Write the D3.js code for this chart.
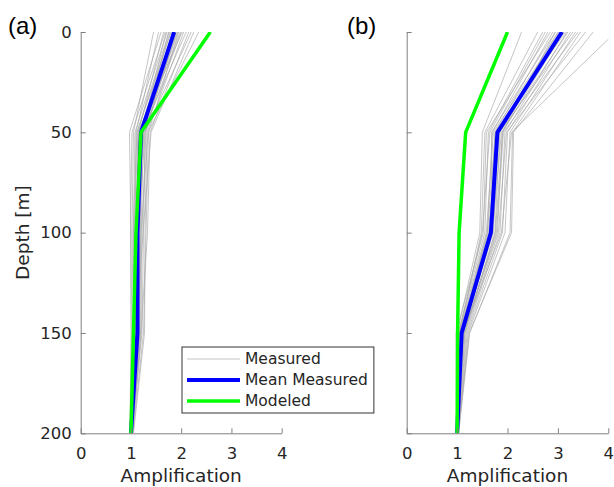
<!DOCTYPE html>
<html><head><meta charset="utf-8">
<script src="https://cdn.jsdelivr.net/npm/d3@7"></script>
<style>body{margin:0;background:#fff}svg{display:block}</style>
</head><body>
<script>
const depths = [0, 50, 100, 150, 200];
const xTicks = [0, 1, 2, 3, 4];
const yTicks = [0, 50, 100, 150, 200];
const panelLabels = ["(a)", "(b)"];
const legendLabels = ["Measured", "Mean Measured", "Modeled"];

const measuredA = [
 [1.45,1.05,1.02,1.05,0.99],[1.55,1.10,1.08,1.10,1.00],[1.60,0.97,1.00,1.02,0.98],
 [1.65,1.15,1.12,1.15,1.01],[1.70,1.22,1.18,1.12,1.00],[1.72,1.08,1.05,1.08,0.99],
 [1.75,1.25,1.20,1.18,1.02],[1.78,1.18,1.10,1.12,1.00],[1.80,1.12,1.15,1.10,1.01],
 [1.82,1.30,1.22,1.20,1.03],[1.85,1.20,1.12,1.14,1.00],[1.88,1.16,1.08,1.06,0.99],
 [1.90,1.28,1.25,1.22,1.02],[1.92,1.24,1.14,1.16,1.01],[1.95,1.35,1.30,1.25,1.04],
 [1.98,1.20,1.16,1.12,1.00],[2.00,1.26,1.10,1.08,1.00],[2.02,1.14,1.06,1.10,0.99],
 [2.05,1.32,1.28,1.27,1.05],[2.10,1.22,1.18,1.15,1.01],[2.15,1.38,1.33,1.20,1.03],
 [2.20,1.28,1.15,1.18,1.02],[2.25,1.40,1.24,1.10,1.00],[2.35,1.34,1.20,1.14,1.02],
 [1.68,1.02,0.99,1.00,0.98],[1.76,1.12,1.04,1.06,1.00],[1.86,1.18,1.12,1.16,1.01],
 [1.94,1.20,1.10,1.12,1.00]
];
const meanA = [1.86, 1.20, 1.13, 1.13, 1.00];
const modeledA = [2.58, 1.20, 1.10, 1.05, 1.00];

const measuredB = [
 [2.28,1.50,1.45,1.00,0.99],[2.60,1.55,1.48,1.05,1.00],[2.70,1.62,1.55,1.02,1.00],
 [2.80,1.70,1.60,1.08,1.01],[2.85,1.58,1.52,0.98,0.99],[2.90,1.75,1.65,1.10,1.00],
 [2.95,1.68,1.70,1.12,1.01],[3.00,1.80,1.62,1.06,1.00],[3.02,1.72,1.58,1.04,1.00],
 [3.05,1.85,1.75,1.15,1.02],[3.08,1.78,1.68,1.08,1.00],[3.10,1.90,1.80,1.12,1.01],
 [3.12,1.82,1.72,1.10,1.00],[3.15,1.76,1.60,1.05,1.00],[3.18,1.95,1.85,1.18,1.02],
 [3.20,1.88,1.70,1.09,1.00],[3.25,2.00,1.90,1.20,1.02],[3.30,1.84,1.66,1.07,1.00],
 [3.35,2.05,1.95,1.22,1.03],[3.40,1.92,1.78,1.14,1.01],[3.45,2.10,2.05,1.25,1.03],
 [3.55,1.98,1.82,1.16,1.01],[3.70,2.12,2.08,1.24,1.02],[4.15,2.08,1.88,1.12,1.01],
 [2.75,1.65,1.50,1.03,1.00],[2.95,1.90,1.76,1.13,1.00]
];
const meanB = [3.08, 1.80, 1.67, 1.09, 1.00];
const modeledB = [2.00, 1.17, 1.04, 1.01, 1.00];

(function(){
const W = 614, H = 487;
const svg = d3.select("body").append("svg").attr("width", W).attr("height", H);
const FONT = "DejaVu Sans, sans-serif";
const axisCol = "#808080", textCol = "#262626";

const yTop = 32, yBot = 433.3;
const y = d3.scaleLinear().domain([0, 200]).range([yTop, yBot]);

const panels = [
  {x0: 80.7, x1: 281.7, measured: measuredA, mean: meanA, modeled: modeledA, label: panelLabels[0], lx: 8, yLabels: true, legend: true},
  {x0: 406.7, x1: 608.3, measured: measuredB, mean: meanB, modeled: modeledB, label: panelLabels[1], lx: 347, yLabels: false, legend: false}
];

panels.forEach((p, i) => {
  const x = d3.scaleLinear().domain([0, 4]).range([p.x0, p.x1]);
  const g = svg.append("g");
  const clipId = "clip" + i;
  svg.append("clipPath").attr("id", clipId).append("rect")
    .attr("x", p.x0).attr("y", yTop).attr("width", p.x1 - p.x0).attr("height", yBot - yTop);

  const line = d3.line().x(d => x(d[0])).y(d => y(d[1]));
  const toPts = arr => arr.map((v, k) => [v, depths[k]]);
  const plot = g.append("g").attr("clip-path", `url(#${clipId})`);
  plot.selectAll("path.meas").data(p.measured).join("path")
    .attr("class", "meas").attr("d", d => line(toPts(d)))
    .attr("fill", "none").attr("stroke", "#a8a8a8").attr("stroke-opacity", 0.75).attr("stroke-width", 0.9);
  plot.append("path").attr("d", line(toPts(p.mean)))
    .attr("fill", "none").attr("stroke", "#0000ff").attr("stroke-width", 4).attr("stroke-linejoin", "round");
  plot.append("path").attr("d", line(toPts(p.modeled)))
    .attr("fill", "none").attr("stroke", "#00ff00").attr("stroke-width", 3.5).attr("stroke-linejoin", "round");

  const xAxis = d3.axisBottom(x).tickValues(xTicks).tickSizeInner(-5).tickSizeOuter(0).tickPadding(14).tickFormat(d3.format("d"));
  const gx = g.append("g").attr("transform", `translate(0,${yBot})`).call(xAxis);
  gx.select(".domain").attr("stroke", axisCol);
  gx.selectAll(".tick line").attr("stroke", axisCol);
  gx.selectAll(".tick text").attr("fill", textCol).attr("font-size", 16.5).attr("font-family", FONT);

  const yAxis = d3.axisLeft(y).tickValues(yTicks).tickSizeInner(-5).tickSizeOuter(0).tickPadding(9)
    .tickFormat(p.yLabels ? d3.format("d") : () => "");
  const gy = g.append("g").attr("transform", `translate(${p.x0},0)`).call(yAxis);
  gy.select(".domain").attr("stroke", axisCol);
  gy.selectAll(".tick line").attr("stroke", axisCol);
  gy.selectAll(".tick text").attr("fill", textCol).attr("font-size", 16.5).attr("font-family", FONT);

  g.append("text").attr("x", (p.x0 + p.x1) / 2).attr("y", 482).attr("text-anchor", "middle")
    .attr("font-family", FONT).attr("font-size", 18.5).attr("fill", textCol).text("Amplification");

  g.append("text").attr("x", p.lx).attr("y", 34).attr("font-family", "Liberation Sans, Arial, sans-serif")
    .attr("font-size", 24).attr("fill", "#000").text(p.label);

  if (p.yLabels) {
    g.append("text").attr("transform", `translate(29,${(yTop + yBot) / 2}) rotate(-90)`)
      .attr("text-anchor", "middle").attr("font-family", FONT).attr("font-size", 18.5).attr("fill", textCol)
      .text("Depth [m]");
  }

  if (p.legend) {
    const lg = g.append("g");
    const box = lg.append("rect").attr("x", 182).attr("y", 347).attr("height", 66)
      .attr("fill", "#fff").attr("stroke", "#333").attr("stroke-width", 1);
    const styles = [
      {c: "#a8a8a8", w: 0.9, o: 0.75}, {c: "#0000ff", w: 4, o: 1}, {c: "#00ff00", w: 3.5, o: 1}
    ];
    let maxRight = 0;
    legendLabels.forEach((t, k) => {
      const yy = 359 + k * 21;
      lg.append("line").attr("x1", 187).attr("x2", 240).attr("y1", yy).attr("y2", yy)
        .attr("stroke", styles[k].c).attr("stroke-width", styles[k].w).attr("stroke-opacity", styles[k].o);
      const tx = lg.append("text").attr("x", 245).attr("y", yy).attr("dy", "0.35em")
        .attr("font-family", FONT).attr("font-size", 15.5).attr("fill", textCol).text(t);
      const bb = tx.node().getBBox();
      maxRight = Math.max(maxRight, bb.x + bb.width);
    });
    box.attr("width", maxRight + 6 - 182);
  }
});
})();
</script>
</body></html>
